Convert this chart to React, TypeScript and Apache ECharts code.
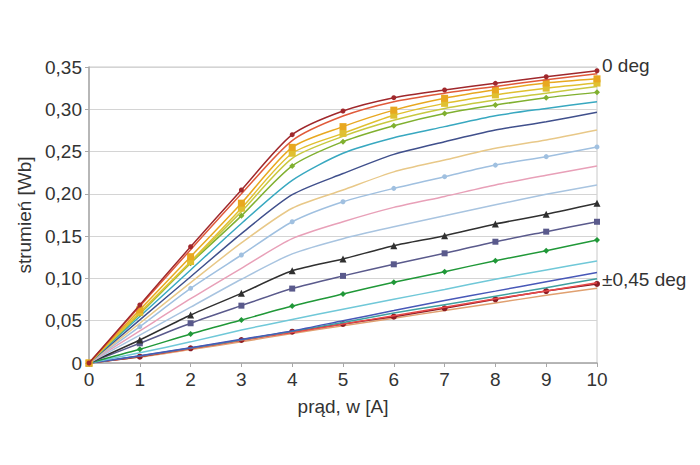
import React, { useEffect, useRef } from "react";
import * as echarts from "echarts";

const currents = [0, 1, 2, 3, 4, 5, 6, 7, 8, 9, 10];

const s01 = [0, 0.0686, 0.1375, 0.2046, 0.27, 0.298, 0.3137, 0.3228, 0.3307, 0.3385, 0.3456];
const s02 = [0, 0.067, 0.134, 0.2, 0.263, 0.292, 0.309, 0.319, 0.327, 0.335, 0.342];
const s03 = [0, 0.063, 0.1257, 0.189, 0.255, 0.2795, 0.299, 0.313, 0.323, 0.331, 0.336];
const s04 = [0, 0.06, 0.12, 0.183, 0.248, 0.2715, 0.293, 0.307, 0.317, 0.325, 0.331];
const s05 = [0, 0.059, 0.119, 0.179, 0.242, 0.268, 0.287, 0.301, 0.311, 0.319, 0.327];
const s06 = [0, 0.058, 0.118, 0.174, 0.233, 0.2617, 0.2806, 0.295, 0.305, 0.3137, 0.32];
const s07 = [0, 0.055, 0.11, 0.165, 0.216, 0.248, 0.2664, 0.2795, 0.2924, 0.301, 0.309];
const s08 = [0, 0.051, 0.102, 0.153, 0.199, 0.224, 0.2467, 0.2617, 0.2755, 0.2853, 0.2964];
const s09 = [0, 0.047, 0.095, 0.142, 0.183, 0.2046, 0.226, 0.24, 0.2538, 0.2637, 0.2755];
const s10 = [0, 0.043, 0.0883, 0.1277, 0.167, 0.1907, 0.2065, 0.2203, 0.234, 0.244, 0.2555];
const s11 = [0, 0.038, 0.076, 0.112, 0.147, 0.167, 0.184, 0.197, 0.2105, 0.222, 0.233];
const s12 = [0, 0.033, 0.066, 0.099, 0.129, 0.147, 0.161, 0.174, 0.187, 0.1995, 0.2105];
const s13 = [0, 0.0272, 0.0568, 0.0824, 0.109, 0.123, 0.1387, 0.1505, 0.1644, 0.1758, 0.1888];
const s14 = [0, 0.0233, 0.047, 0.0678, 0.088, 0.103, 0.1167, 0.1297, 0.1434, 0.1553, 0.167];
const s15 = [0, 0.0162, 0.0343, 0.0508, 0.0674, 0.0816, 0.0954, 0.108, 0.121, 0.1328, 0.1454];
const s16 = [0, 0.012, 0.025, 0.039, 0.0515, 0.0635, 0.0753, 0.087, 0.099, 0.11, 0.1206];
const s17 = [0, 0.0085, 0.018, 0.028, 0.038, 0.05, 0.062, 0.074, 0.085, 0.096, 0.107];
const s18 = [0, 0.0082, 0.0177, 0.0275, 0.0375, 0.048, 0.059, 0.069, 0.079, 0.089, 0.0997];
const s19 = [0, 0.008, 0.017, 0.027, 0.036, 0.046, 0.056, 0.066, 0.076, 0.085, 0.095];
const s20 = [0, 0.0075, 0.0174, 0.0272, 0.037, 0.0461, 0.0548, 0.0647, 0.0753, 0.0851, 0.0935];
const s21 = [0, 0.007, 0.016, 0.025, 0.035, 0.044, 0.053, 0.062, 0.071, 0.08, 0.0885];

const xTicks = ["0", "1", "2", "3", "4", "5", "6", "7", "8", "9", "10"];
const yTicks = ["0", "0,05", "0,10", "0,15", "0,20", "0,25", "0,30", "0,35"];
const topLabel = "0 deg";
const bottomLabel = "±0,45 deg";

const seriesDefs: [number[], string, string, number][] = [
  [s21, "#e0a070", "none", 0],
  [s20, "#8c1c24", "circle", 6],
  [s19, "#e84848", "none", 0],
  [s18, "#40a0a0", "none", 0],
  [s17, "#4858b8", "none", 0],
  [s16, "#70c8d8", "none", 0],
  [s15, "#209838", "diamond", 6],
  [s14, "#5a5a8c", "rect", 6],
  [s13, "#303030", "triangle", 7],
  [s12, "#a8c4e0", "none", 0],
  [s11, "#e8a0b8", "none", 0],
  [s10, "#a0c0e0", "circle", 5],
  [s09, "#e8c888", "none", 0],
  [s08, "#40508c", "none", 0],
  [s07, "#38a8c0", "none", 0],
  [s06, "#80b030", "diamond", 6],
  [s05, "#c8c840", "none", 0],
  [s04, "#e0c030", "rect", 7],
  [s03, "#e8a820", "rect", 7],
  [s02, "#e05a3a", "none", 0],
  [s01, "#a0282c", "circle", 5],
];

export default function App() {
  const ref = useRef<HTMLDivElement>(null);
  useEffect(() => {
    document.body.style.margin = "0";
    if (!ref.current) return;
    const chart = echarts.init(ref.current, undefined, { renderer: "svg" });
    const font = "'Liberation Sans', Arial, sans-serif";
    chart.setOption({
      animation: false,
      backgroundColor: "#ffffff",
      textStyle: { fontFamily: font },
      grid: {
        left: 89,
        right: 103,
        top: 67,
        bottom: 102,
        show: true,
        borderColor: "#c8c8c8",
        borderWidth: 1,
      },
      xAxis: {
        type: "value",
        min: 0,
        max: 10,
        interval: 1,
        name: "prąd, w [A]",
        nameLocation: "middle",
        nameGap: 34,
        nameTextStyle: { fontSize: 19, color: "#333", fontFamily: font },
        axisLine: { show: true, lineStyle: { color: "#a8a8a8", width: 1.5 } },
        axisTick: { show: true, length: 4, lineStyle: { color: "#a8a8a8" } },
        axisLabel: {
          fontSize: 19,
          color: "#333",
          margin: 7,
          fontFamily: font,
          formatter: (v: number) => xTicks[Math.round(v)] ?? "",
        },
        splitLine: { show: false },
      },
      yAxis: {
        type: "value",
        min: 0,
        max: 0.35,
        interval: 0.05,
        name: "strumień [Wb]",
        nameLocation: "middle",
        nameGap: 53,
        nameTextStyle: { fontSize: 19, color: "#333", fontFamily: font },
        axisLine: { show: true, lineStyle: { color: "#a8a8a8", width: 1.5 } },
        axisTick: { show: true, length: 4, lineStyle: { color: "#a8a8a8" } },
        axisLabel: {
          fontSize: 19,
          color: "#333",
          margin: 7,
          fontFamily: font,
          formatter: (v: number) => yTicks[Math.round(v / 0.05)] ?? "",
        },
        splitLine: { show: true, lineStyle: { color: "#d4d4d4", width: 1.2 } },
      },
      series: seriesDefs.map(([vals, color, sym, size], i) => ({
        type: "line",
        name: "s" + i,
        data: currents.map((x, j) => [x, vals[j]]),
        smooth: 0.25,
        symbol: sym,
        symbolSize: size,
        showSymbol: sym !== "none",
        lineStyle: { color, width: 1.5 },
        itemStyle: { color },
        z: 2 + i,
      })),
      graphic: [
        {
          type: "text",
          left: 602,
          top: 56,
          style: { text: topLabel, fontSize: 19, fill: "#333", fontFamily: font },
        },
        {
          type: "text",
          left: 602,
          top: 270,
          style: { text: bottomLabel, fontSize: 19, fill: "#333", fontFamily: font },
        },
      ],
    });
    return () => chart.dispose();
  }, []);
  return <div ref={ref} style={{ width: 700, height: 465 }} />;
}
